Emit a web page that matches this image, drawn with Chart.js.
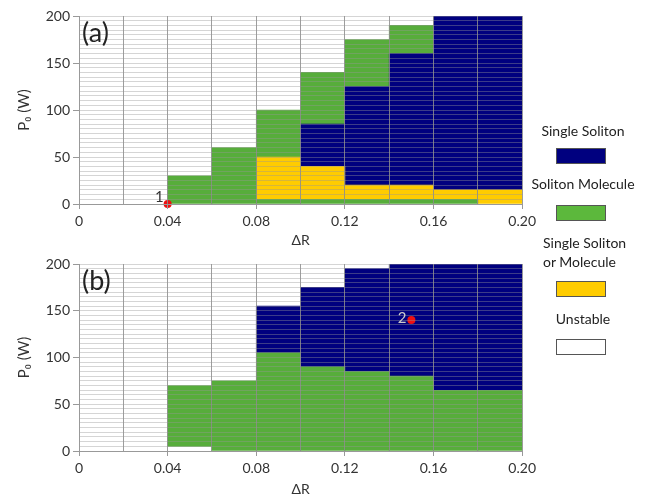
<!DOCTYPE html>
<html lang="en">
<head>
<meta charset="UTF-8" />
<title>Soliton regimes vs ΔR and P0</title>
<script src="https://cdn.jsdelivr.net/npm/chart.js"></script>
<style>
  body { margin: 0; background: #fff; font-family: Lato, 'Open Sans', sans-serif; }
  #wrap { position: relative; width: 660px; height: 498px; }
  .panel { position: absolute; left: 0; width: 540px; height: 249px; }
  #panelA { top: 0; }
  #panelB { top: 249px; }
  .key-text { position: absolute; font-size: 14px; color: #222; line-height: 19px; }
  .key-box { position: absolute; left: 556px; width: 50px; height: 16px; border: 1px solid #555; box-sizing: border-box; }
</style>
</head>
<body>
<div id="wrap">
  <div class="panel" id="panelA"><canvas id="chartA"></canvas></div>
  <div class="panel" id="panelB"><canvas id="chartB"></canvas></div>

  <div class="key-text" style="left:520px;width:126px;text-align:center;top:121px">Single Soliton</div>
  <div class="key-box" style="top:148px;background:#00007f"></div>
  <div class="key-text" style="left:520px;width:126px;text-align:center;top:174px">Soliton Molecule</div>
  <div class="key-box" style="top:205px;background:#5cb83c"></div>
  <div class="key-text" style="left:543px;top:233px">Single Soliton<br>or Molecule</div>
  <div class="key-box" style="top:281px;background:#ffcc00"></div>
  <div class="key-text" style="left:520px;width:126px;text-align:center;top:309px">Unstable</div>
  <div class="key-box" style="top:339px;background:#fff"></div>
</div>

<script>
// ΔR bins (0.02 wide) and axis labels
const bins = ['0-0.02', '0.02-0.04', '0.04-0.06', '0.06-0.08', '0.08-0.10',
              '0.10-0.12', '0.12-0.14', '0.14-0.16', '0.16-0.18', '0.18-0.20'];
const deltaRLabels = [0, 0.04, 0.08, 0.12, 0.16, 0.20];
const powerLabels = [0, 50, 100, 150, 200];

// panel (a): P0 ranges [from, to] in W for each bin
const moleculeLowA  = [null, null, [0, 30], [0, 60], [0, 5], [0, 5], [0, 5], [0, 5], [0, 5], null];
const eitherA       = [null, null, null, null, [5, 50], [5, 40], [5, 20], [5, 20], [5, 15], [0, 15]];
const singleA       = [null, null, null, null, null, [40, 85], [20, 125], [20, 160], [15, 200], [15, 200]];
const moleculeHighA = [null, null, null, null, [50, 100], [85, 140], [125, 175], [160, 190], null, null];
const marksA = [{ x: 0.04, y: 0 }];
const markNamesA = ['1'];

// panel (b)
const moleculeB = [null, null, [5, 70], [0, 75], [0, 105], [0, 90], [0, 85], [0, 80], [0, 65], [0, 65]];
const singleB   = [null, null, null, null, [105, 155], [90, 175], [85, 195], [80, 200], [65, 200], [65, 200]];
const marksB = [{ x: 0.15, y: 140 }];
const markNamesB = ['2'];

const NAVY = '#00007f';
const GREEN = '#57ad3b';
const GOLD = '#ffcc00';
const FONT = "Lato, 'Open Sans', sans-serif";
const CLEAR = 'rgba(0,0,0,0)';

const near = (list, v) => list.some(t => Math.abs(t - v) < 1e-9);
const tickVal = ctx => (ctx.tick ? ctx.tick.value : NaN);

const panelText = {
  id: 'panelText',
  afterDraw(chart, args, opts) {
    const { ctx, chartArea } = chart;
    ctx.save();
    ctx.font = '27px ' + FONT;
    ctx.fillStyle = '#222';
    ctx.textBaseline = 'middle';
    ctx.fillText(opts.tag, chartArea.left + 3, chartArea.top + 17);
    // names next to the marked points
    const meta = chart.getDatasetMeta(chart.data.datasets.length - 1);
    ctx.font = '15px ' + FONT;
    ctx.textAlign = 'right';
    meta.data.forEach((pt, i) => {
      ctx.fillStyle = opts.nameColor;
      ctx.fillText(opts.names[i], pt.x + opts.dx, pt.y + opts.dy);
    });
    ctx.restore();
  }
};

function makePanel(id, layers, marks, names, tag, padTop, axisHeight, nameStyle) {
  const datasets = layers.map(l => ({
    label: l.label,
    data: l.data,
    backgroundColor: l.color,
    borderWidth: 0,
    grouped: false,
    xAxisID: 'x',
    yAxisID: 'y',
    barPercentage: 1,
    categoryPercentage: 1
  }));
  datasets.push({
    type: 'scatter',
    label: 'marks',
    data: marks,
    xAxisID: 'xv',
    yAxisID: 'y',
    backgroundColor: '#ee1111',
    borderWidth: 0,
    pointRadius: 4,
    clip: false,
    order: -1
  });

  return new Chart(document.getElementById(id), {
    type: 'bar',
    data: { labels: bins, datasets },
    plugins: [panelText],
    options: {
      responsive: true,
      maintainAspectRatio: false,
      animation: false,
      layout: { padding: { top: padTop, right: 17, left: 0, bottom: 0 } },
      plugins: {
        legend: { display: false },
        tooltip: { enabled: false },
        panelText: { tag, names, ...nameStyle }
      },
      scales: {
        x: { type: 'category', display: false, offset: true },
        xv: {
          type: 'linear',
          position: 'bottom',
          min: 0,
          max: 0.2,
          offset: false,
          afterFit(scale) { scale.height = axisHeight; },
          ticks: {
            stepSize: 0.02,
            autoSkip: false,
            maxRotation: 0,
            padding: 4,
            color: '#333',
            font: { family: FONT, size: 14 },
            callback: v => near(deltaRLabels, v) ? (v === 0 ? '0' : v.toFixed(2)) : ''
          },
          // grid lines sit over the coloured regions
          grid: {
            z: 1,
            offset: false,
            color: 'rgba(140,140,140,0.85)',
            tickLength: 5,
            tickColor: ctx => near(deltaRLabels, tickVal(ctx)) ? '#999' : CLEAR
          },
          border: { color: '#999', z: 2 },
          title: {
            display: true,
            text: 'ΔR',
            color: '#333',
            font: { family: FONT, size: 14 },
            padding: { top: 0, bottom: 0 }
          }
        },
        y: {
          min: 0,
          max: 200,
          afterFit(scale) { scale.width = 79; },
          ticks: {
            stepSize: 5,
            autoSkip: false,
            padding: 3,
            color: '#333',
            font: { family: FONT, size: 14 },
            callback: v => near(powerLabels, v) ? String(v) : ''
          },
          grid: {
            z: 1,
            color: ctx => tickVal(ctx) === 0 ? CLEAR : 'rgba(150,150,150,0.4)',
            tickLength: 6,
            tickColor: ctx => near(powerLabels, tickVal(ctx)) ? '#999' : CLEAR
          },
          border: { color: '#999', z: 2 },
          title: {
            display: true,
            text: 'P₀ (W)',
            color: '#333',
            font: { family: FONT, size: 15 },
            padding: { top: 15, bottom: 0 }
          }
        }
      }
    }
  });
}

makePanel('chartA', [
  { label: 'Soliton Molecule', data: moleculeLowA, color: GREEN },
  { label: 'Single Soliton or Molecule', data: eitherA, color: GOLD },
  { label: 'Single Soliton', data: singleA, color: NAVY },
  { label: 'Soliton Molecule', data: moleculeHighA, color: GREEN }
], marksA, markNamesA, '(a)', 16, 45, { nameColor: '#333', dx: -4, dy: -7 });

makePanel('chartB', [
  { label: 'Soliton Molecule', data: moleculeB, color: GREEN },
  { label: 'Single Soliton', data: singleB, color: NAVY }
], marksB, markNamesB, '(b)', 15, 47, { nameColor: '#ccc', dx: -5, dy: -2 });
</script>
</body>
</html>
